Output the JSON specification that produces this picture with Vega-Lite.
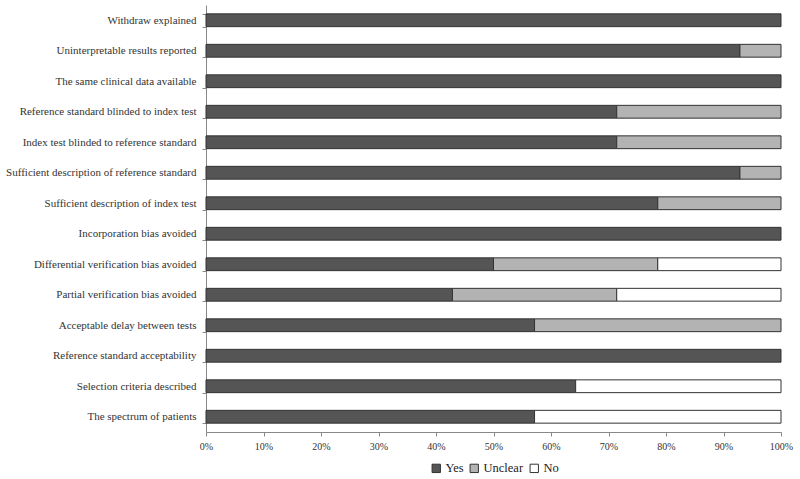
{
  "$schema": "https://vega.github.io/schema/vega-lite/v6.json",
  "width": 575,
  "height": 427,
  "autosize": "none",
  "padding": {"left": 206, "top": 5, "right": 19, "bottom": 47},
  "background": "white",
  "config": {
    "view": {"stroke": null},
    "font": "Liberation Serif",
    "axis": {"labelFont": "Liberation Serif", "grid": false, "domainColor": "#888888", "tickColor": "#888888", "labelColor": "#333333"},
    "legend": {"labelFont": "Liberation Serif"}
  },
  "data": {
    "values": [
      {"item": "Withdraw explained", "resp": "Yes", "ord": 1, "v": 1.0},
      {"item": "Uninterpretable results reported", "resp": "Yes", "ord": 1, "v": 0.9286},
      {"item": "Uninterpretable results reported", "resp": "Unclear", "ord": 2, "v": 0.0714},
      {"item": "The same clinical data available", "resp": "Yes", "ord": 1, "v": 1.0},
      {"item": "Reference standard blinded to index test", "resp": "Yes", "ord": 1, "v": 0.7143},
      {"item": "Reference standard blinded to index test", "resp": "Unclear", "ord": 2, "v": 0.2857},
      {"item": "Index test blinded to reference standard", "resp": "Yes", "ord": 1, "v": 0.7143},
      {"item": "Index test blinded to reference standard", "resp": "Unclear", "ord": 2, "v": 0.2857},
      {"item": "Sufficient description of reference standard", "resp": "Yes", "ord": 1, "v": 0.9286},
      {"item": "Sufficient description of reference standard", "resp": "Unclear", "ord": 2, "v": 0.0714},
      {"item": "Sufficient description of index test", "resp": "Yes", "ord": 1, "v": 0.7857},
      {"item": "Sufficient description of index test", "resp": "Unclear", "ord": 2, "v": 0.2143},
      {"item": "Incorporation bias avoided", "resp": "Yes", "ord": 1, "v": 1.0},
      {"item": "Differential verification bias avoided", "resp": "Yes", "ord": 1, "v": 0.5},
      {"item": "Differential verification bias avoided", "resp": "Unclear", "ord": 2, "v": 0.2857},
      {"item": "Differential verification bias avoided", "resp": "No", "ord": 3, "v": 0.2143},
      {"item": "Partial verification bias avoided", "resp": "Yes", "ord": 1, "v": 0.4286},
      {"item": "Partial verification bias avoided", "resp": "Unclear", "ord": 2, "v": 0.2857},
      {"item": "Partial verification bias avoided", "resp": "No", "ord": 3, "v": 0.2857},
      {"item": "Acceptable delay between tests", "resp": "Yes", "ord": 1, "v": 0.5714},
      {"item": "Acceptable delay between tests", "resp": "Unclear", "ord": 2, "v": 0.4286},
      {"item": "Reference standard acceptability", "resp": "Yes", "ord": 1, "v": 1.0},
      {"item": "Selection criteria described", "resp": "Yes", "ord": 1, "v": 0.6429},
      {"item": "Selection criteria described", "resp": "No", "ord": 3, "v": 0.3571},
      {"item": "The spectrum of patients", "resp": "Yes", "ord": 1, "v": 0.5714},
      {"item": "The spectrum of patients", "resp": "No", "ord": 3, "v": 0.4286}
    ]
  },
  "mark": {"type": "bar", "stroke": "#333333", "strokeWidth": 1},
  "encoding": {
    "y": {
      "field": "item",
      "type": "nominal",
      "sort": null,
      "scale": {"paddingInner": 0.58, "paddingOuter": 0.29},
      "axis": {"title": null, "tickBand": "extent", "tickSize": 4, "labelFontSize": 11, "labelPadding": 6, "labelLimit": 300}
    },
    "x": {
      "field": "v",
      "type": "quantitative",
      "stack": "zero",
      "scale": {"domain": [0, 1], "nice": false},
      "axis": {"title": null, "format": ".0%", "values": [0, 0.1, 0.2, 0.3, 0.4, 0.5, 0.6, 0.7, 0.8, 0.9, 1.0], "tickSize": 4, "labelFontSize": 10, "labelPadding": 5, "labelFlush": false}
    },
    "order": {"field": "ord", "type": "quantitative"},
    "color": {
      "field": "resp",
      "type": "nominal",
      "scale": {"domain": ["Yes", "Unclear", "No"], "range": ["#555555", "#b3b3b3", "#ffffff"]},
      "legend": {
        "title": null,
        "orient": "none",
        "direction": "horizontal",
        "legendX": 224,
        "legendY": 457,
        "symbolType": "square",
        "symbolSize": 70,
        "symbolStrokeColor": "#333333",
        "symbolStrokeWidth": 1,
        "labelFontSize": 12.5,
        "labelColor": "#222222",
        "labelOffset": 3,
        "columnPadding": 4
      }
    }
  }
}
